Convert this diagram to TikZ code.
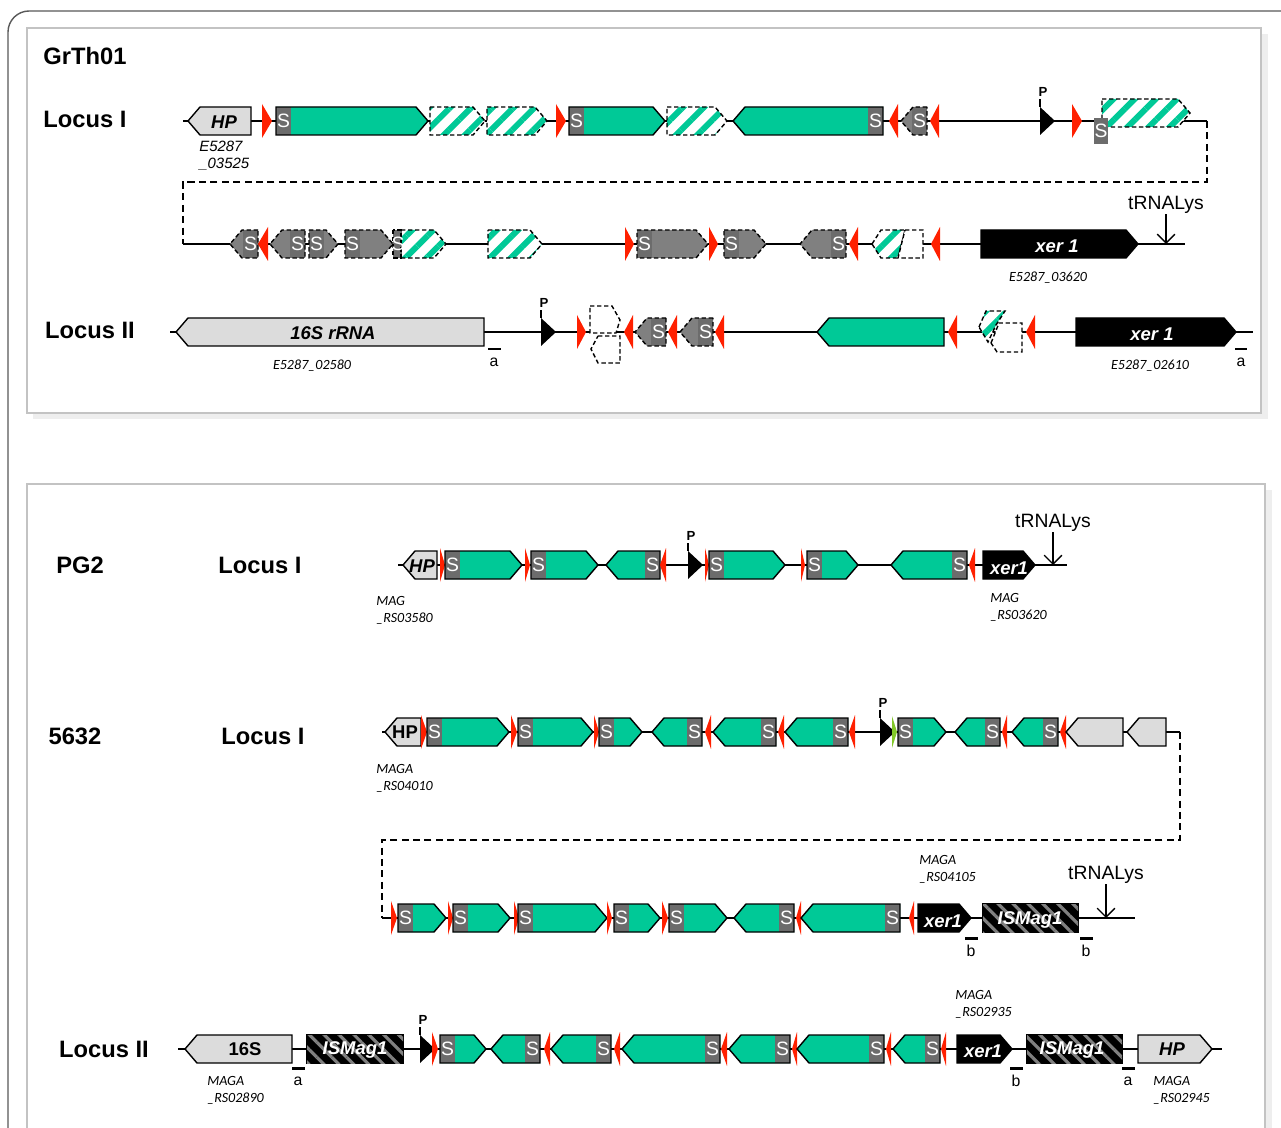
\documentclass[tikz,border=0pt]{standalone}
\usepackage{fontspec}
\setmainfont{Liberation Sans}
\newfontfamily\idfont{Carlito}
\usetikzlibrary{patterns.meta,arrows.meta}
\definecolor{genegreen}{RGB}{0,201,151}
\definecolor{sgray}{RGB}{108,108,108}
\definecolor{midgray}{RGB}{128,128,128}
\definecolor{lgray}{RGB}{220,220,220}
\definecolor{redtip}{RGB}{255,32,0}
\definecolor{limetip}{RGB}{130,200,40}
\definecolor{panelgray}{RGB}{195,195,195}
\definecolor{shadegray}{RGB}{238,238,238}
\tikzset{
	bb/.style={line width=1.1pt},
	dsh/.style={line width=0.9pt, dash pattern=on 4pt off 2.5pt},
	grn/.style={draw=black, fill=genegreen, line width=0.8pt},
	hat/.style={preaction={draw=none, fill=white}, preaction={draw=none, solid, pattern={Lines[angle=45,distance=8.5pt,line width=3.4pt]}, pattern color=genegreen}, draw=black, line width=0.8pt, dash pattern=on 2.5pt off 1.5pt},
	dgr/.style={draw=black, fill=midgray, line width=0.8pt, dash pattern=on 2.5pt off 1.5pt},
	frag/.style={draw=black, fill=white, line width=0.8pt, dash pattern=on 2.5pt off 1.5pt},
	lgr/.style={draw=black, fill=lgray, line width=0.8pt},
	blk/.style={draw=black, fill=black, line width=0.8pt},
	ism/.style={draw=black, fill=black, line width=0.8pt, postaction={pattern={Lines[angle=-45,distance=6pt,line width=1.8pt]}, pattern color=gray}},
	bar/.style={line width=1.7pt},
	tarr/.style={line width=0.8pt, -{Straight Barb[length=5pt,width=10pt]}},
	stxt/.style={text=white, inner sep=0pt, font=\fontsize{11}{11}\selectfont},
	gtxt/.style={inner sep=0pt, font=\bfseries\itshape\fontsize{10.5}{11}\selectfont},
	wtxt/.style={gtxt, text=white},
	utxt/.style={inner sep=0pt, font=\bfseries\fontsize{10.5}{11}\selectfont},
	ttl/.style={inner sep=0pt, font=\bfseries\fontsize{13.5}{14}\selectfont},
	idtxt/.style={inner sep=0pt, align=left, font=\idfont\itshape\fontsize{8}{9.6}\selectfont},
	trna/.style={inner sep=0pt, font=\fontsize{11}{12}\selectfont},
	ptxt/.style={inner sep=0pt, font=\bfseries\fontsize{7.5}{8}\selectfont},
	abtxt/.style={inner sep=0pt, font=\fontsize{9}{9}\selectfont}
}
\def\Rgene[#1](#2:#3:#4){\draw[#1] (#2,{#4-14}) -- ({#3-12},{#4-14}) -- (#3,#4) -- ({#3-12},{#4+14}) -- (#2,{#4+14}) -- cycle;}
\def\Lgene[#1](#2:#3:#4){\draw[#1] (#3,{#4-14}) -- ({#2+12},{#4-14}) -- (#2,#4) -- ({#2+12},{#4+14}) -- (#3,{#4+14}) -- cycle;}
\def\Sbox(#1:#2){\fill[sgray] (#1,{#2-14}) rectangle ({#1+15},{#2+14}); \node[stxt] (s#1x#2) at ({#1+7.5},#2) {S};}
\def\SRgene[#1](#2:#3:#4){\Rgene[#1,draw=none](#2:#3:#4)\Sbox(#2:#4)\Rgene[#1,fill=none](#2:#3:#4)}
\def\SLgene[#1](#2:#3:#4){\pgfmathtruncatemacro\sx{#3-15}\Lgene[#1,draw=none](#2:#3:#4)\Sbox(\sx:#4)\Lgene[#1,fill=none](#2:#3:#4)}
\def\redR(#1:#2:#3){\fill[redtip] (#1,{#3-17}) -- (#2,#3) -- (#1,{#3+17}) -- cycle;}
\def\redL(#1:#2:#3){\fill[redtip] (#2,{#3-17}) -- (#1,#3) -- (#2,{#3+17}) -- cycle;}
\def\prom(#1:#2:#3){\fill (#1,{#3-14}) -- ({#1+15},#3) -- (#1,{#3+14}) -- cycle; \draw[line width=0.8pt] (#1,{#3-14}) -- (#1,{#3-22}); \node[ptxt] (#2) at ({#1+3},{#3-29}) {P};}

\begin{document}
\begin{tikzpicture}[x=0.02cm, y=-0.02cm]
			%%%%% START %%%%%
			\useasboundingbox (0,0) rectangle (1281,1128);
			\fill[white] (0,0) rectangle (1281,1128);
			\draw[line width=0.8pt, black!65, rounded corners=12] (1300,11) -- (8,11) -- (8,1150);
			
			\fill[shadegray] (33,34) rectangle (1268,419);
			\draw[panelgray, fill=white, line width=0.9pt] (27,28) rectangle (1261,413);
			\fill[shadegray] (33,490) rectangle (1272,1140);
			\draw[panelgray, fill=white, line width=0.9pt] (27,484) rectangle (1265,1140);
			
			%%%%% GrTh01, locus I %%%%%
			\node[ttl] (grth) at (85,56) {GrTh01};
			\node[ttl] (loc1a) at (85,119) {Locus I};
			\draw[bb] (183,121) -- (1207,121);
			\Lgene[lgr](188:251:121)
			\node[gtxt] (hp1) at (224,122) {HP};
			\redR(262:272:121)
			\SRgene[grn](276:428:121)
			\Rgene[hat](430:485:121)
			\Rgene[hat](487:547:121)
			\redR(556:566:121)
			\SRgene[grn](569:665:121)
			\Rgene[hat](667:727:121)
			\SLgene[grn](733:883:121)
			\redL(889:898:121)
			\SLgene[dgr](901:927:121)
			\redL(930:939:121)
			\prom(1040:p1:121)
			\redR(1072:1082:121)
			\Rgene[hat](1102:1190:113)
			\fill[sgray] (1094,118) rectangle (1108,144);
			\node[stxt] (sup1) at (1101,131) {S};
			\node[anchor=north west, inner sep=0pt, align=left, font=\itshape\fontsize{8.5}{9.6}\selectfont] (id1) at (199,141) {E5287\\\_03525};
			
			\draw[dsh] (1207,121) -- (1207,182) -- (183,182) -- (183,244);
			\draw[bb] (183,244) -- (1185,244);
			\SLgene[dgr](230:258:244)
			\redL(258:268:244)
			\SLgene[dgr](270:305:244)
			\SRgene[dgr](309:338:244)
			\SRgene[dgr](345:393:244)
			\Rgene[hat](401:446:244)
			\draw[dgr, fill=sgray] (393,230) rectangle (401,258);
			\node[stxt] (shalf) at (398,244) {S};
			\Rgene[hat](488:542:244)
			\redR(625:634:244)
			\SRgene[dgr](637:708:244)
			\redR(709:718:244)
			\SRgene[dgr](724:766:244)
			\SLgene[dgr](800:846:244)
			\redL(849:858:244)
			\draw[hat] (872,244) -- (881,230) -- (905,230) -- (898,258) -- (881,258) -- cycle;
			\draw[frag] (905,230) -- (923,230) -- (923,258) -- (898,258) -- cycle;
			\redL(931:940:244)
			\Rgene[blk](981:1138:244)
			\node[wtxt] (xer1a) at (1057,246) {xer 1};
			\node[trna] (trna1) at (1166,205) {tRNALys};
			\coordinate (t1) at (1166,244);
			\draw[tarr] (trna1.south) -- (t1);
			\node[idtxt] (id2) at (1048,278) {E5287\_03620};
			
			%%%%% GrTh01, locus II %%%%%
			\node[ttl] (loc2a) at (90,330) {Locus II};
			\draw[bb] (170,332) -- (1253,332);
			\Lgene[lgr](176:484:332)
			\node[gtxt] (rrna) at (333,333) {16S rRNA};
			\draw[bar] (488,349) -- (501,349);
			\node[abtxt] (a1) at (494,362) {a};
			\prom(541:p2:332)
			\redR(577:586:332)
			\draw[frag] (590,306) -- (612,306) -- (620,320) -- (616,333) -- (590,333) -- cycle;
			\draw[frag] (598,336) -- (620,336) -- (620,363) -- (598,363) -- (591,349) -- cycle;
			\redL(624:633:332)
			\SLgene[dgr](635:666:332)
			\redL(668:677:332)
			\SLgene[dgr](680:713:332)
			\redL(715:724:332)
			\Lgene[grn](817:944:332)
			\redL(948:957:332)
			\draw[frag] (991,343) -- (999,323) -- (1022,323) -- (1022,352) -- (997,352) -- cycle;
			\draw[hat] (979,327) -- (986,311) -- (1005,311) -- (996,325) -- (988,342) -- cycle;
			\redL(1026:1035:332)
			\Rgene[blk](1076:1236:332)
			\node[wtxt] (xer1b) at (1152,334) {xer 1};
			\draw[bar] (1235,349) -- (1247,349);
			\node[abtxt] (a2) at (1241,362) {a};
			\node[idtxt] (id3) at (312,366) {E5287\_02580};
			\node[idtxt] (id4) at (1150,366) {E5287\_02610};
			
			%%%%% PG2 %%%%%
			\node[ttl] (pg2) at (80,565) {PG2};
			\node[ttl] (loc1b) at (260,565) {Locus I};
			\draw[bb] (398,565) -- (1067,565);
			\Lgene[lgr](403:437:565)
			\node[gtxt] (hp2) at (422,566) {HP};
			\redR(440:445:565)
			\SRgene[grn](445:522:565)
			\redR(525:530:565)
			\SRgene[grn](531:598:565)
			\SLgene[grn](606:660:565)
			\redL(660:666:565)
			\prom(688:p3:565)
			\redR(705:709:565)
			\SRgene[grn](709:785:565)
			\redR(801:805:565)
			\SRgene[grn](807:858:565)
			\SLgene[grn](891:967:565)
			\redL(969:975:565)
			\Rgene[blk](983:1035:565)
			\node[wtxt] (xer1c) at (1009,568) {xer1};
			\node[trna] (trna2) at (1053,523) {tRNALys};
			\coordinate (t2) at (1053,565);
			\draw[tarr] (trna2.south) -- (t2);
			\node[idtxt, anchor=north west] (id5) at (376,596) {MAG\\\_RS03580};
			\node[idtxt, anchor=north west] (id6) at (990,593) {MAG\\\_RS03620};
			
			%%%%% 5632, locus I %%%%%
			\node[ttl] (n5632) at (75,736) {5632};
			\node[ttl] (loc1c) at (263,736) {Locus I};
			\draw[bb] (382,732) -- (1180,732);
			\Lgene[lgr](385:421:732)
			\node[utxt] (hp3) at (405,732) {HP};
			\redR(421:427:732)
			\SRgene[grn](427:509:732)
			\redR(511:517:732)
			\SRgene[grn](518:593:732)
			\redR(594:599:732)
			\SRgene[grn](599:642:732)
			\SLgene[grn](652:702:732)
			\redL(705:711:732)
			\SLgene[grn](713:776:732)
			\redL(778:784:732)
			\SLgene[grn](785:848:732)
			\redL(849:855:732)
			\prom(880:p4:732)
			\fill[limetip] (892,716) -- (897,732) -- (892,748) -- cycle;
			\SRgene[grn](898:946:732)
			\SLgene[grn](955:1000:732)
			\redL(1002:1007:732)
			\SLgene[grn](1012:1058:732)
			\redL(1060:1066:732)
			\Lgene[lgr](1066:1123:732)
			\Lgene[lgr](1127:1166:732)
			\node[idtxt, anchor=north west] (id7) at (376,764) {MAGA\\\_RS04010};
			
			\draw[dsh] (1180,732) -- (1180,840) -- (382,840) -- (382,918);
			\draw[bb] (382,918) -- (1135,918);
			\redR(391:397:918)
			\SRgene[grn](398:446:918)
			\redR(448:453:918)
			\SRgene[grn](453:510:918)
			\redR(514:519:918)
			\SRgene[grn](518:607:918)
			\redR(607:612:918)
			\SRgene[grn](614:660:918)
			\redR(662:668:918)
			\SRgene[grn](669:727:918)
			\SLgene[grn](734:794:918)
			\redL(796:801:918)
			\SLgene[grn](801:900:918)
			\redL(909:914:918)
			\Rgene[blk](918:971:918)
			\node[wtxt] (xer1d) at (943,921) {xer1};
			\draw[bar] (965,938) -- (978,938);
			\node[abtxt] (b1) at (971,951) {b};
			\draw[ism] (983,904) rectangle (1078,932);
			\node[wtxt] (is1) at (1030,920) {ISMag1};
			\draw[bar] (1080,938) -- (1093,938);
			\node[abtxt] (b2) at (1086,951) {b};
			\node[trna] (trna3) at (1106,875) {tRNALys};
			\coordinate (t3) at (1106,918);
			\draw[tarr] (trna3.south) -- (t3);
			\node[idtxt, anchor=north west] (id8) at (919,855) {MAGA\\\_RS04105};
			
			%%%%% 5632, locus II %%%%%
			\node[ttl] (loc2b) at (104,1049) {Locus II};
			\draw[bb] (178,1049) -- (1222,1049);
			\Lgene[lgr](185:292:1049)
			\node[utxt] (r16s) at (245,1049) {16S};
			\draw[bar] (292,1068) -- (305,1068);
			\node[abtxt] (a3) at (298,1081) {a};
			\draw[ism] (307,1035) rectangle (403,1063);
			\node[wtxt] (is2) at (355,1050) {ISMag1};
			\prom(420:p5:1049)
			\redR(432:438:1049)
			\SRgene[grn](440:486:1049)
			\SLgene[grn](491:540:1049)
			\redL(544:550:1049)
			\SLgene[grn](551:611:1049)
			\redL(614:620:1049)
			\SLgene[grn](622:720:1049)
			\redL(721:727:1049)
			\SLgene[grn](729:790:1049)
			\redL(792:797:1049)
			\SLgene[grn](797:884:1049)
			\redL(886:891:1049)
			\SLgene[grn](893:940:1049)
			\redL(941:946:1049)
			\Rgene[blk](957:1012:1049)
			\node[wtxt] (xer1e) at (983,1051) {xer1};
			\draw[bar] (1010,1068) -- (1023,1068);
			\node[abtxt] (b3) at (1016,1081) {b};
			\draw[ism] (1027,1035) rectangle (1122,1063);
			\node[wtxt] (is3) at (1072,1050) {ISMag1};
			\draw[bar] (1122,1068) -- (1135,1068);
			\node[abtxt] (a4) at (1128,1081) {a};
			\Rgene[lgr](1138:1212:1049)
			\node[gtxt] (hp4) at (1172,1049) {HP};
			\node[idtxt, anchor=north west] (id9) at (955,990) {MAGA\\\_RS02935};
			\node[idtxt, anchor=north west] (id10) at (207,1076) {MAGA\\\_RS02890};
			\node[idtxt, anchor=north west] (id11) at (1153,1076) {MAGA\\\_RS02945};
			
			%%%%% END %%%%%
\end{tikzpicture}
\end{document}
